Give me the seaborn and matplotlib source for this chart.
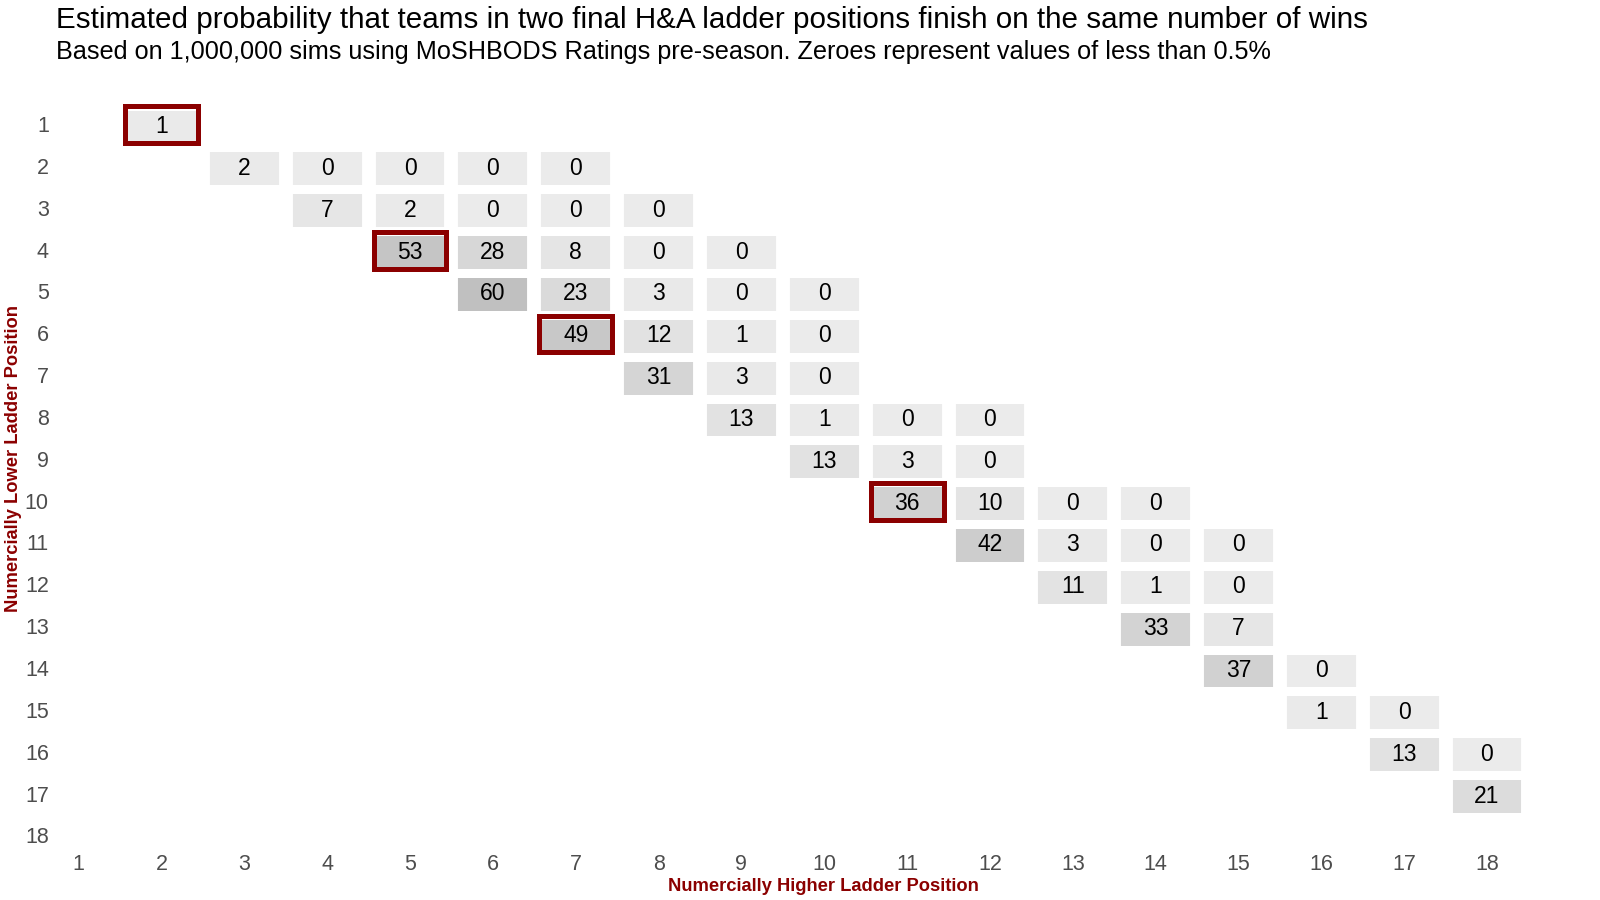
import numpy as np
import pandas as pd
import matplotlib.pyplot as plt
import seaborn as sns
from matplotlib.colors import LinearSegmentedColormap
from matplotlib.patches import Rectangle

# (lower position, higher position, probability %)
lower_pos = [1,
             2, 2, 2, 2, 2,
             3, 3, 3, 3, 3,
             4, 4, 4, 4, 4,
             5, 5, 5, 5, 5,
             6, 6, 6, 6,
             7, 7, 7,
             8, 8, 8, 8,
             9, 9, 9,
             10, 10, 10, 10,
             11, 11, 11, 11,
             12, 12, 12,
             13, 13,
             14, 14,
             15, 15,
             16, 16,
             17]
higher_pos = [2,
              3, 4, 5, 6, 7,
              4, 5, 6, 7, 8,
              5, 6, 7, 8, 9,
              6, 7, 8, 9, 10,
              7, 8, 9, 10,
              8, 9, 10,
              9, 10, 11, 12,
              10, 11, 12,
              11, 12, 13, 14,
              12, 13, 14, 15,
              13, 14, 15,
              14, 15,
              15, 16,
              16, 17,
              17, 18,
              18]
prob = [1,
        2, 0, 0, 0, 0,
        7, 2, 0, 0, 0,
        53, 28, 8, 0, 0,
        60, 23, 3, 0, 0,
        49, 12, 1, 0,
        31, 3, 0,
        13, 1, 0, 0,
        13, 3, 0,
        36, 10, 0, 0,
        42, 3, 0, 0,
        11, 1, 0,
        33, 7,
        37, 0,
        1, 0,
        13, 0,
        21]
# pairs outlined in dark red (lower, higher)
highlight = [(1, 2), (4, 5), (6, 7), (10, 11)]

positions = list(range(1, 19))

df = pd.DataFrame({'lower': lower_pos, 'higher': higher_pos, 'prob': prob})
grid = df.pivot(index='lower', columns='higher', values='prob')
grid = grid.reindex(index=positions, columns=positions)

sns.set_style('white')
plt.rcParams['font.family'] = ['Liberation Sans', 'DejaVu Sans']

fig = plt.figure(figsize=(16, 9), dpi=100)
W, H = 1600, 900
ax_l, ax_r, ax_t, ax_b = 53, 1528.4, 104, 850
ax = fig.add_axes([ax_l / W, 1 - ax_b / H, (ax_r - ax_l) / W, (ax_b - ax_t) / H])

cmap = LinearSegmentedColormap.from_list('greys', ['#ebebeb', '#c0c0c0'])
sns.heatmap(grid, mask=grid.isna(), cmap=cmap, vmin=0, vmax=60,
            annot=True, fmt='.0f', annot_kws={'size': 16.5, 'color': 'black'},
            cbar=False, linewidths=6.3, linecolor='white', ax=ax)

# wider gaps between columns
ax.vlines(np.arange(0, 19), -1, 19, colors='white', linewidth=10, zorder=2)

for lo, hi in highlight:
    ax.add_patch(Rectangle((hi - 1 + 0.06, lo - 1 + 0.02), 0.88, 0.88,
                           fill=False, edgecolor='#8b0000', linewidth=3.6,
                           zorder=4))

ax.set_xlim(0.19, 18.0)
ax.set_ylim(17.79, -0.038)
ax.set_xticks(np.arange(18) + 0.5)
ax.set_xticklabels(positions)
ax.set_yticks(np.arange(18) + 0.5)
ax.set_yticklabels(positions, rotation=0)
ax.tick_params(axis='both', length=0, labelsize=15.5, labelcolor='#4d4d4d', pad=3)
for s in ax.spines.values():
    s.set_visible(False)

aw, ah = ax_r - ax_l, ax_b - ax_t
ax.set_xlabel('Numercially Higher Ladder Position', color='#8b0000',
              fontsize=13.2, fontweight='bold')
ax.xaxis.set_label_coords((823 - ax_l) / aw, -(878 - ax_b) / ah)
ax.set_ylabel('Numercially Lower Ladder Position', color='#8b0000',
              fontsize=13.2, fontweight='bold')
ax.yaxis.set_label_coords((22 - ax_l) / aw, 1 - (459 - ax_t) / ah)

fig.text(56 / W, 1 - 20 / H,
         'Estimated probability that teams in two final H&A ladder positions finish on the same number of wins',
         fontsize=21.3, va='center', ha='left', color='black')
fig.text(56 / W, 1 - 52 / H,
         'Based on 1,000,000 sims using MoSHBODS Ratings pre-season. Zeroes represent values of less than 0.5%',
         fontsize=18.2, va='center', ha='left', color='black')

fig.savefig('out.png', dpi=100, facecolor='white')
